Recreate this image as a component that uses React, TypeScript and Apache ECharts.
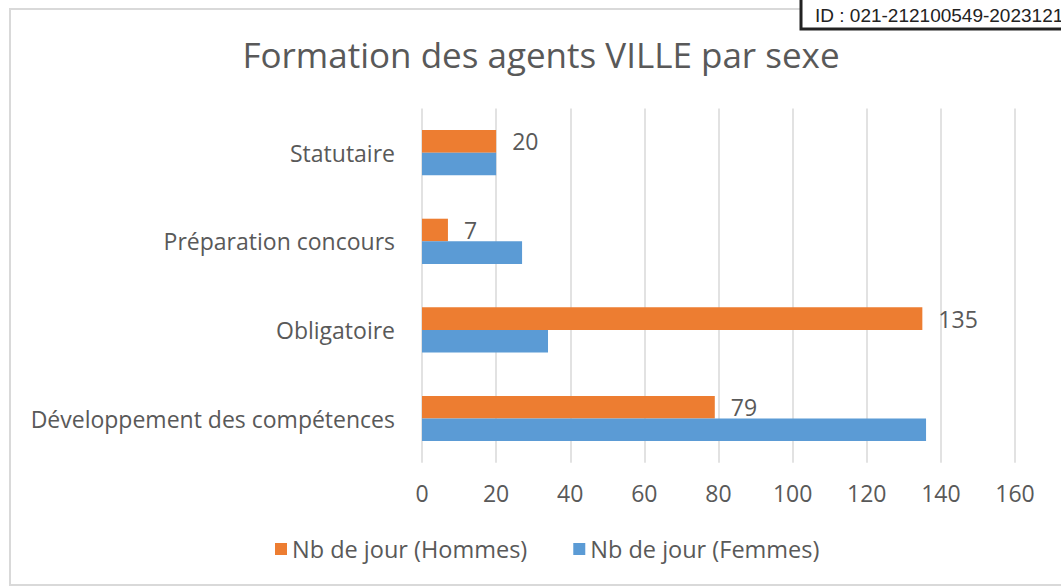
import React, { useEffect, useRef } from "react";
import * as echarts from "echarts";

const categories = [
  "Développement des compétences",
  "Obligatoire",
  "Préparation concours",
  "Statutaire",
];
const hommes = [79, 135, 7, 20];
const femmes = [136, 34, 27, 20];
const seriesNames = ["Nb de jour (Hommes)", "Nb de jour (Femmes)"];
const titleText = "Formation des agents VILLE par sexe";
const idText = "ID : 021-212100549-20231214";
const xMin = 0;
const xMax = 160;
const xInterval = 20;

const FONT = "'Open Sans', sans-serif";
const TXT = "#595959";

export default function App() {
  const ref = useRef<HTMLDivElement>(null);
  useEffect(() => {
    if (!ref.current) return;
    const chart = echarts.init(ref.current, undefined, { renderer: "svg" });
    chart.setOption({
      animation: false,
      backgroundColor: "#ffffff",
      textStyle: { fontFamily: FONT },
      grid: { left: 422, right: 46, top: 108.4, bottom: 124.2, containLabel: false },
      xAxis: {
        type: "value",
        min: xMin,
        max: xMax,
        interval: xInterval,
        axisLine: { show: false },
        axisTick: { show: false },
        axisLabel: { color: TXT, fontSize: 23, fontFamily: FONT, margin: 19 },
        splitLine: { show: true, lineStyle: { color: "#d9d9d9", width: 1.5 } },
      },
      yAxis: {
        type: "category",
        data: categories,
        axisLine: { show: false },
        axisTick: { show: false },
        axisLabel: { color: TXT, fontSize: 23, fontFamily: FONT, margin: 27 },
        splitLine: { show: false },
      },
      legend: {
        data: seriesNames,
        left: 270,
        top: 532,
        icon: "rect",
        itemWidth: 12,
        itemHeight: 12,
        itemGap: 46,
        textStyle: { color: TXT, fontSize: 23.5, fontFamily: FONT },
      },
      series: [
        {
          name: seriesNames[0],
          type: "bar",
          data: hommes,
          itemStyle: { color: "#ED7D31" },
          barGap: "0%",
          barCategoryGap: "49%",
          label: {
            show: true,
            position: "right",
            distance: 16,
            color: TXT,
            fontSize: 23,
            fontFamily: FONT,
          },
        },
        {
          name: seriesNames[1],
          type: "bar",
          data: femmes,
          itemStyle: { color: "#5B9BD5" },
          barGap: "0%",
          barCategoryGap: "49%",
        },
      ],
      graphic: [
        {
          type: "rect",
          shape: { x: 10, y: 9, width: 1120, height: 576 },
          style: { fill: "none", stroke: "#d9d9d9", lineWidth: 2 },
          z: -1,
        },
        {
          type: "text",
          x: 541,
          y: 54,
          style: {
            text: titleText,
            fill: TXT,
            font: `35px ${FONT}`,
            textAlign: "center",
            textVerticalAlign: "middle",
          },
        },
        {
          type: "rect",
          shape: { x: 801, y: -5, width: 300, height: 34 },
          style: { fill: "#ffffff", stroke: "#222222", lineWidth: 3 },
          z: 10,
        },
        {
          type: "text",
          x: 815,
          y: 15,
          z: 11,
          style: {
            text: idText,
            fill: "#222222",
            font: "19px 'Liberation Sans', Arial, sans-serif",
            textAlign: "left",
            textVerticalAlign: "middle",
          },
        },
      ],
    });
    return () => chart.dispose();
  }, []);
  return (
    <div
      ref={ref}
      style={{ position: "fixed", left: 0, top: 0, width: 1061, height: 587 }}
    />
  );
}
